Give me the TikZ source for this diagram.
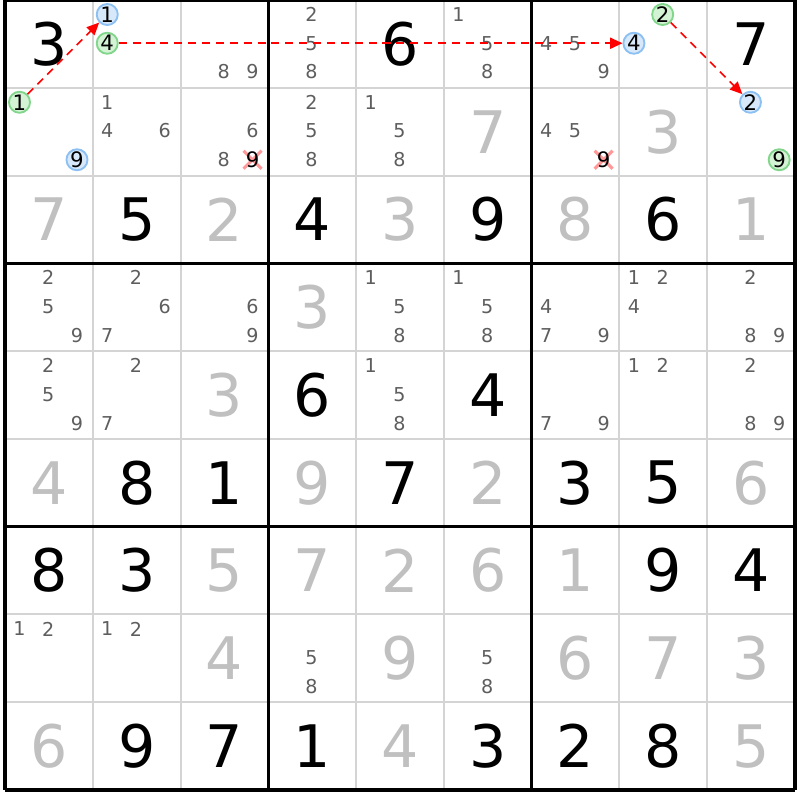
\documentclass[tikz,border=0pt]{standalone}
\usepackage{fontspec}
\setmainfont{DejaVu Sans}
\usetikzlibrary{arrows.meta, shapes.misc}

\definecolor{candgray}{HTML}{5E5E5E}
\definecolor{solvedgray}{HTML}{C0C0C0}
\definecolor{gridgray}{HTML}{D4D4D4}
\definecolor{bluefill}{HTML}{D6E8FA}
\definecolor{blueedge}{HTML}{8CC0F2}
\definecolor{greenfill}{HTML}{D4F2D4}
\definecolor{greenedge}{HTML}{82D68C}

\tikzset{
	given/.style = {font=\fontsize{19}{20}\selectfont, text=black, inner sep=0pt},
	solved/.style = {given, text=solvedgray},
	cand/.style = {font=\fontsize{6.2}{7}\selectfont, text=candgray, inner sep=0pt},
	ring/.style = {circle, inner sep=0pt, minimum size=0.24cm, line width=0.6pt, font=\fontsize{6.9}{7}\selectfont, text=black},
	bluecand/.style = {ring, draw=blueedge, fill=bluefill},
	greencand/.style = {ring, draw=greenedge, fill=greenfill},
	struck/.style = {cross out, draw=red!40, line width=1pt, minimum size=0.17cm, inner sep=0pt},
	link/.style = {red, line width=0.5pt, dash pattern=on 2.6pt off 1.9pt, -{Triangle[length=4pt, width=3.6pt]}}
}

\begin{document}
\begin{tikzpicture}
	\useasboundingbox[fill=white] (-0.057,0) rectangle (9.057,-9.114);

	\foreach \i in {1,...,8}
		\draw[gridgray, line width=0.65pt] (\i,0) -- (\i,-9) (0,-\i) -- (9,-\i);
	\foreach \i in {0,3,6,9}
		\draw[line width=1pt] (\i,0) -- (\i,-9) (0,-\i) -- (9,-\i);

	\foreach \r/\c/\d in {1/1/3, 1/5/6, 1/9/7, 3/2/5, 3/4/4, 3/6/9, 3/8/6, 5/4/6, 5/6/4,
			6/2/8, 6/3/1, 6/5/7, 6/7/3, 6/8/5, 7/1/8, 7/2/3, 7/8/9, 7/9/4,
			9/2/9, 9/3/7, 9/4/1, 9/6/3, 9/7/2, 9/8/8}
		\node[given] (g-\r-\c) at (\c-0.5,-\r+0.5) {\d};

	\foreach \r/\c/\d in {2/6/7, 2/8/3, 3/1/7, 3/3/2, 3/5/3, 3/7/8, 3/9/1, 4/4/3, 5/3/3,
			6/1/4, 6/4/9, 6/6/2, 6/9/6, 7/3/5, 7/4/7, 7/5/2, 7/6/6, 7/7/1,
			8/3/4, 8/5/9, 8/7/6, 8/8/7, 8/9/3, 9/1/6, 9/5/4, 9/9/5}
		\node[solved] (s-\r-\c) at (\c-0.5,-\r+0.5) {\d};

	\foreach \r/\c/\l in {1/3/{8,9}, 1/4/{2,5,8}, 1/6/{1,5,8}, 1/7/{4,5,9},
			2/2/{1,4,6}, 2/3/{6,8}, 2/4/{2,5,8}, 2/5/{1,5,8}, 2/7/{4,5},
			4/1/{2,5,9}, 4/2/{2,6,7}, 4/3/{6,9}, 4/5/{1,5,8}, 4/6/{1,5,8},
			4/7/{4,7,9}, 4/8/{1,2,4}, 4/9/{2,8,9},
			5/1/{2,5,9}, 5/2/{2,7}, 5/5/{1,5,8}, 5/7/{7,9}, 5/8/{1,2}, 5/9/{2,8,9},
			8/1/{1,2}, 8/2/{1,2}, 8/4/{5,8}, 8/6/{5,8}}
		\foreach \d in \l {
			\pgfmathsetmacro\kx{\c-0.835+0.3275*mod(\d-1,3)}
			\pgfmathsetmacro\ky{-\r+0.835-0.3275*div(\d-1,3)}
			\node[cand] (k-\r-\c-\d) at (\kx,\ky) {\d};
		}

	\foreach \r/\c/\d in {2/3/9, 2/7/9} {
		\pgfmathsetmacro\kx{\c-0.835+0.3275*mod(\d-1,3)}
		\pgfmathsetmacro\ky{-\r+0.835-0.3275*div(\d-1,3)}
		\node[struck] (x-\r-\c-\d) at (\kx,\ky) {};
		\node[cand, text=black, font=\fontsize{6.9}{7}\selectfont] (k-\r-\c-\d) at (\kx,\ky) {\d};
	}

	\foreach \r/\c/\d/\s in {1/2/1/bluecand, 1/2/4/greencand, 1/8/4/bluecand, 1/8/2/greencand,
			2/1/1/greencand, 2/1/9/bluecand, 2/9/2/bluecand, 2/9/9/greencand} {
		\pgfmathsetmacro\kx{\c-0.835+0.3275*mod(\d-1,3)}
		\pgfmathsetmacro\ky{-\r+0.835-0.3275*div(\d-1,3)}
		\node[\s] (h-\r-\c-\d) at (\kx,\ky) {\d};
	}

	\draw[link] (h-2-1-1) -- (h-1-2-1);
	\draw[link] (h-1-2-4) -- (h-1-8-4);
	\draw[link] (h-1-8-2) -- (h-2-9-2);
\end{tikzpicture}
\end{document}
